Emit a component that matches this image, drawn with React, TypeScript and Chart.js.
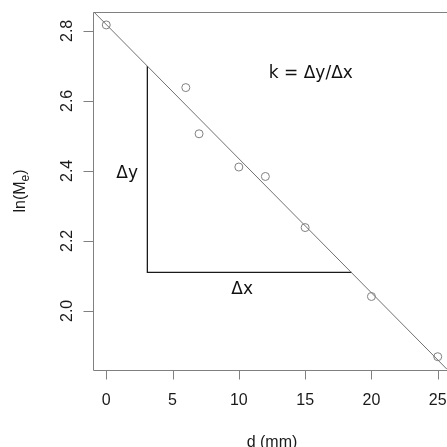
import React, { useEffect, useRef } from "react";
import { Chart, registerables } from "chart.js";

Chart.register(...registerables);

// ---- data ----
const distances = [0, 6, 7, 10, 12, 15, 20, 25];
const lnMe = [2.817, 2.638, 2.506, 2.411, 2.384, 2.238, 2.041, 1.869];
const xTicks = [0, 5, 10, 15, 20, 25];
const yTicks = [2.0, 2.2, 2.4, 2.6, 2.8];
const xTickLabels = ["0", "5", "10", "15", "20", "25"];
const yTickLabels = ["2.0", "2.2", "2.4", "2.6", "2.8"];
const triangleX = [3.1, 18.5];
const triangleBaseY = 2.11;
const annotationTexts = ["k = Δy/Δx", "Δy", "Δx"];
const annotationX = [15.43, 1.58, 10.25];
const annotationY = [2.678, 2.392, 2.061];
const xTitle = "d (mm)";
const yTitleParts = ["ln(M", "e", ")"];

const X_MIN = -1;
const X_MAX = 25.7;
const X_CENTER = 12.5;
const Y_MIN = 1.831;
const Y_MAX = 2.854;

const SANS = "'Liberation Sans', Arial, Helvetica, sans-serif";
const ANN_FONT = "'DejaVu Sans', sans-serif";
const AXIS_GRAY = "#808080";
const TEXT = "#1a1a1a";

function leastSquares(xs: number[], ys: number[]) {
  const n = xs.length;
  const mx = xs.reduce((a, b) => a + b, 0) / n;
  const my = ys.reduce((a, b) => a + b, 0) / n;
  let sxy = 0;
  let sxx = 0;
  for (let i = 0; i < n; i++) {
    sxy += (xs[i] - mx) * (ys[i] - my);
    sxx += (xs[i] - mx) * (xs[i] - mx);
  }
  const slope = sxy / sxx;
  return { slope, intercept: my - slope * mx };
}

const axesPlugin = {
  id: "raxes",
  beforeDatasetsDraw(chart: any) {
    const { ctx, chartArea, scales } = chart;
    const l = Math.round(chartArea.left) + 0.5;
    const t = Math.round(chartArea.top) + 0.5;
    const b = Math.round(chartArea.bottom) + 0.5;
    const r = chartArea.right + 2;
    ctx.save();
    ctx.strokeStyle = AXIS_GRAY;
    ctx.lineWidth = 1;
    // plot box (right edge lies outside the picture)
    ctx.beginPath();
    ctx.moveTo(r, t);
    ctx.lineTo(l, t);
    ctx.lineTo(l, b);
    ctx.lineTo(r, b);
    ctx.stroke();
    // tick marks
    ctx.beginPath();
    xTicks.forEach((v) => {
      const px = Math.round(scales.x.getPixelForValue(v)) + 0.5;
      ctx.moveTo(px, b);
      ctx.lineTo(px, b + 9);
    });
    yTicks.forEach((v) => {
      const py = Math.round(scales.y.getPixelForValue(v)) + 0.5;
      ctx.moveTo(l, py);
      ctx.lineTo(l - 10, py);
    });
    ctx.stroke();

    ctx.fillStyle = TEXT;
    ctx.font = `16px ${SANS}`;
    ctx.textAlign = "center";
    ctx.textBaseline = "alphabetic";
    // x tick labels
    xTicks.forEach((v, i) => {
      ctx.fillText(xTickLabels[i], scales.x.getPixelForValue(v), 405);
    });
    // x title
    ctx.fillText(xTitle, scales.x.getPixelForValue(X_CENTER), 446.5);
    // y tick labels, reading bottom to top
    yTicks.forEach((v, i) => {
      ctx.save();
      ctx.translate(72, scales.y.getPixelForValue(v));
      ctx.rotate(-Math.PI / 2);
      ctx.textAlign = "center";
      ctx.fillText(yTickLabels[i], 0, 0);
      ctx.restore();
    });
    // y title with subscript e
    const yc = (chartArea.top + chartArea.bottom) / 2;
    ctx.save();
    ctx.translate(25, yc);
    ctx.rotate(-Math.PI / 2);
    ctx.textAlign = "left";
    ctx.font = `16px ${SANS}`;
    const w0 = ctx.measureText(yTitleParts[0]).width;
    const w2 = ctx.measureText(yTitleParts[2]).width;
    ctx.font = `12px ${SANS}`;
    const w1 = ctx.measureText(yTitleParts[1]).width;
    let x = -(w0 + w1 + w2) / 2;
    ctx.font = `16px ${SANS}`;
    ctx.fillText(yTitleParts[0], x, 0);
    x += w0;
    ctx.font = `12px ${SANS}`;
    ctx.fillText(yTitleParts[1], x, 3.5);
    x += w1;
    ctx.font = `16px ${SANS}`;
    ctx.fillText(yTitleParts[2], x, 0);
    ctx.restore();

    ctx.restore();
  },
};

const annotationPlugin = {
  id: "rannot",
  afterDatasetsDraw(chart: any) {
    const { ctx, scales } = chart;
    ctx.save();
    ctx.fillStyle = "#111";
    ctx.font = `17px ${ANN_FONT}`;
    ctx.textAlign = "center";
    ctx.textBaseline = "middle";
    annotationTexts.forEach((txt, i) => {
      const px = scales.x.getPixelForValue(annotationX[i]);
      const py = scales.y.getPixelForValue(annotationY[i]);
      ctx.fillText(txt, px, py);
    });
    ctx.restore();
  },
};

export default function App() {
  const canvasRef = useRef<HTMLCanvasElement | null>(null);

  useEffect(() => {
    const canvas = canvasRef.current;
    if (!canvas) return;
    const { slope, intercept } = leastSquares(distances, lnMe);
    const f = (x: number) => intercept + slope * x;

    const chart = new Chart(canvas, {
      type: "scatter",
      data: {
        datasets: [
          {
            label: "fit",
            data: [
              { x: X_MIN, y: f(X_MIN) },
              { x: X_MAX, y: f(X_MAX) },
            ],
            showLine: true,
            borderColor: "#707070",
            borderWidth: 1,
            pointRadius: 0,
            fill: false,
          },
          {
            label: "triangle",
            data: [
              { x: triangleX[0], y: f(triangleX[0]) },
              { x: triangleX[0], y: triangleBaseY },
              { x: triangleX[1], y: triangleBaseY },
            ],
            showLine: true,
            borderColor: "#1a1a1a",
            borderWidth: 1.3,
            pointRadius: 0,
            fill: false,
          },
          {
            label: "data",
            data: distances.map((x, i) => ({ x, y: lnMe[i] })),
            showLine: false,
            pointRadius: 4,
            pointBorderWidth: 1,
            borderColor: "#808080",
            backgroundColor: "rgba(0,0,0,0)",
            pointBackgroundColor: "rgba(0,0,0,0)",
            pointBorderColor: "#808080",
          },
        ],
      },
      options: {
        animation: false,
        responsive: false,
        maintainAspectRatio: false,
        devicePixelRatio: 1,
        layout: { padding: { top: 12, left: 93, right: 0, bottom: 77 }, autoPadding: false },
        plugins: {
          legend: { display: false },
          tooltip: { enabled: false },
        },
        scales: {
          x: { type: "linear", min: X_MIN, max: X_MAX, display: false },
          y: { type: "linear", min: Y_MIN, max: Y_MAX, display: false },
        },
      } as any,
      plugins: [axesPlugin, annotationPlugin],
    });

    return () => chart.destroy();
  }, []);

  return (
    <div style={{ position: "fixed", left: 0, top: 0, width: 447, height: 447, background: "#fff" }}>
      <canvas ref={canvasRef} width={447} height={447} style={{ display: "block", width: 447, height: 447 }} />
    </div>
  );
}
